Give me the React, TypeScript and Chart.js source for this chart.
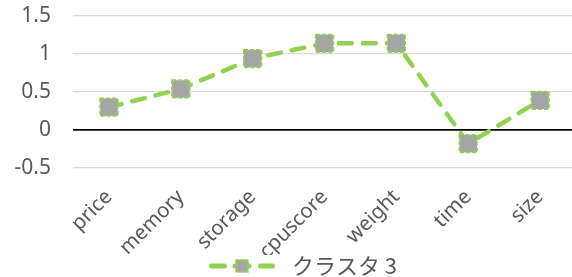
import React, { useEffect, useRef } from "react";
import { Chart, registerables } from "chart.js";

Chart.register(...registerables);

const categories = ["price", "memory", "storage", "cpuscore", "weight", "time", "size"];
const cluster3 = [0.3, 0.54, 0.94, 1.14, 1.14, -0.18, 0.39];
const seriesLabel = "クラスタ 3";
const yTicks = [-0.5, 0, 0.5, 1, 1.5];

const GREEN = "#92D050";
const GRAY = "#A5A5A5";
const TEXT = "#595959";

const ICON_PAD = 30;

function makeLegendIcon(): HTMLCanvasElement {
  const c = document.createElement("canvas");
  c.width = 72 + ICON_PAD;
  c.height = 24;
  const ctx = c.getContext("2d")!;
  ctx.translate(ICON_PAD, 0);
  ctx.strokeStyle = GREEN;
  ctx.lineWidth = 5;
  ctx.lineCap = "round";
  const segs = [
    [2.5, 15.5],
    [26, 40],
    [51.5, 63.5],
  ];
  for (const [a, b] of segs) {
    ctx.beginPath();
    ctx.moveTo(a, 12);
    ctx.lineTo(b, 12);
    ctx.stroke();
  }
  ctx.fillStyle = GRAY;
  ctx.fillRect(33 - 6, 12 - 6, 12, 12);
  ctx.setLineDash([3, 1.5]);
  ctx.lineWidth = 1.5;
  ctx.strokeStyle = GREEN;
  ctx.strokeRect(33 - 6, 12 - 6, 12, 12);
  return c;
}

const markerPlugin = {
  id: "dashedMarkers",
  afterDatasetsDraw(chart: any) {
    const ctx = chart.ctx;
    chart.data.datasets.forEach((_: any, di: number) => {
      const meta = chart.getDatasetMeta(di);
      meta.data.forEach((pt: any) => {
        const s = 17.5;
        ctx.save();
        ctx.fillStyle = GRAY;
        ctx.fillRect(pt.x - s / 2, pt.y - s / 2, s, s);
        ctx.setLineDash([4, 2]);
        ctx.lineWidth = 1.8;
        ctx.strokeStyle = GREEN;
        ctx.strokeRect(pt.x - s / 2, pt.y - s / 2, s, s);
        ctx.restore();
      });
    });
  },
};

export default function App() {
  const ref = useRef<HTMLCanvasElement>(null);
  useEffect(() => {
    if (!ref.current) return;
    const icon = makeLegendIcon();
    const chart = new Chart(ref.current, {
      type: "line",
      data: {
        labels: categories,
        datasets: [
          {
            label: seriesLabel,
            data: cluster3,
            borderColor: GREEN,
            backgroundColor: GRAY,
            borderWidth: 4.5,
            borderDash: [13, 11],
            borderCapStyle: "round",
            tension: 0,
            pointRadius: 0,
            pointHoverRadius: 0,
          },
        ],
      },
      options: {
        responsive: false,
        animation: false,
        layout: { padding: 0 },
        plugins: {
          tooltip: { enabled: false },
          legend: {
            position: "bottom",
            labels: {
              usePointStyle: true,
              pointStyle: icon as any,
              pointStyleWidth: 72 + ICON_PAD,
              boxHeight: 22,
              color: TEXT,
              font: { family: "'Noto Sans CJK JP'", size: 22 },
              padding: 0,
            },
          },
        },
        scales: {
          x: {
            offset: true,
            grid: { display: false, drawTicks: false, offset: true },
            border: { display: false },
            ticks: {
              color: TEXT,
              font: { family: "'Noto Sans'", size: 20.5 },
              minRotation: 45,
              maxRotation: 45,
              padding: 17,
            },
            afterFit: (s: any) => {
              s.height = 87;
            },
          },
          y: {
            min: -0.5,
            max: 1.5,
            afterBuildTicks: (s: any) => {
              s.ticks = yTicks.map((v) => ({ value: v }));
            },
            ticks: {
              color: TEXT,
              font: { family: "'Noto Sans'", size: 21 },
              padding: 22,
              callback: (v: any) => String(v),
            },
            grid: {
              drawTicks: false,
              color: (c: any) => (c.tick && c.tick.value === 0 ? "#000000" : "#D9D9D9"),
              lineWidth: (c: any) => (c.tick && c.tick.value === 0 ? 1.8 : 1.3),
            },
            border: { display: false },
            afterFit: (s: any) => {
              s.width = 73;
              s.paddingTop = 16;
              s.paddingBottom = 0;
            },
          },
        },
      },
      plugins: [markerPlugin],
    });
    return () => chart.destroy();
  }, []);
  return (
    <div
      style={{
        position: "fixed",
        left: 0,
        top: 0,
        width: 572,
        height: 277,
        overflow: "hidden",
        background: "#fff",
      }}
    >
      <canvas ref={ref} width={576} height={287} style={{ display: "block" }} />
    </div>
  );
}
